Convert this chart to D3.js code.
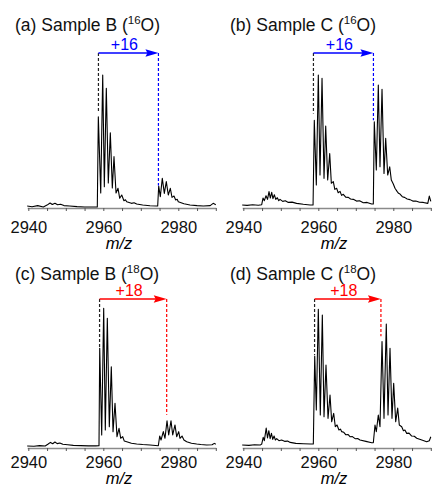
<!DOCTYPE html>
<html>
<head>
<meta charset="utf-8">
<script src="https://cdn.jsdelivr.net/npm/d3@7"></script>
<style>
body { margin: 0; background: #fff; }
text { font-family: "Liberation Sans", Arial, Helvetica, sans-serif; }
</style>
</head>
<body>
<div id="chart"></div>
<script>
// spectra: [m/z, relative intensity]
var specA = [[2939.7,1.5],[2941,1.0],[2942.5,1.8],[2944,0.8],[2945,2.2],[2945.8,3.8],[2946.4,2.6],[2947.1,3.6],[2947.8,2.4],[2948.6,2.8],[2949.5,1.8],[2951,1.5],[2953,1.0],[2955,0.8],[2957,0.8],[2958.4,0.8],
  [2958.67,68.6],[2959.31,11.3],[2959.84,100],[2960.27,16],[2960.8,90],[2961.33,18.8],[2961.87,56.6],[2962.4,15],[2962.85,38.6],[2963.39,11.3],[2963.92,14.8],[2964.37,7.3],[2964.91,9.8],[2965.5,5.5],[2965.9,6.2],[2966.24,4.7],[2967.5,3.5],[2968.2,3.9],[2968.9,3],[2970.5,2.2],[2972.45,1.7],[2974.24,1.5],[2974.5,1.5],
  [2974.77,16.5],[2975.2,8.5],[2975.73,22.3],[2976.27,11],[2976.8,19.8],[2977.33,9.8],[2977.87,14.8],[2978.32,8],[2978.85,9],[2979.3,6],[2979.7,6.5],[2980,4.7],[2981.5,3.2],[2983.12,2.3],[2985,1.8],[2986.67,1.5],[2988.5,1.8],[2989.3,3.5],[2990,2.5]];

var specB = [[2939.7,2.3],[2941,2.0],[2942.5,2.5],[2944,2.1],[2944.9,2.5],[2945.25,7.5],[2945.6,5.5],[2946.05,9.2],[2946.45,6.5],[2946.85,12.3],[2947.2,7.5],[2947.57,11.8],[2947.9,7],[2948.27,10],[2948.65,6.5],[2949.07,7.7],[2949.45,5.5],[2949.79,6.5],[2950.5,5],[2951.2,5.4],[2952,4.2],[2953,4.4],[2954.2,3.5],[2956,2.8],[2957.8,2.3],[2958.6,2.3],
  [2958.93,66],[2959.47,17.3],[2960,100],[2960.45,24.8],[2960.99,97.5],[2961.52,22.3],[2961.97,61.7],[2962.5,21],[2963.04,41],[2963.47,18.6],[2964,19.8],[2964.4,14],[2964.9,14.8],[2965.3,11.5],[2965.8,12.5],[2966.2,9.5],[2966.67,10.3],[2967.3,8.2],[2968,8.0],[2968.6,6.8],[2969.33,6.5],[2970.2,5.2],[2971,5.4],[2972,4],[2973,4.2],[2974.24,3],[2974.67,3],
  [2974.93,64.9],[2975.47,28.6],[2976,92.5],[2976.45,31],[2976.99,89.2],[2977.52,26],[2977.97,52.4],[2978.51,24.8],[2979.04,31],[2979.47,21],[2980,18],[2980.45,14.8],[2981,12.5],[2981.4,11],[2981.79,10.5],[2982.4,8.5],[2983,8],[2983.7,6.8],[2984.45,6.3],[2985.2,5.2],[2986,5.3],[2987,4.3],[2988,4.2],[2989.2,3.5],[2989.6,9],[2990,5]];

var specC = [[2939.7,1.5],[2941.5,1.3],[2943,1.8],[2944.5,1.5],[2945.3,3],[2945.9,4.2],[2946.5,3.2],[2947.1,4.5],[2947.7,3.3],[2948.4,3.8],[2949.2,2.8],[2950.5,2.5],[2952,2],[2954,1.8],[2956,1.6],[2958,1.6],[2958.85,1.7],
  [2959.04,75],[2959.57,9.8],[2960.1,105],[2960.53,13.5],[2961.07,97.5],[2961.6,16],[2962.13,61],[2962.59,12.3],[2963.12,33.6],[2963.65,8.5],[2964.19,14.8],[2964.64,7.3],[2965.17,8.5],[2965.6,5.2],[2966.24,4.7],[2967.5,3.6],[2968.9,3],[2970.5,2.6],[2972.45,2.3],[2974.67,1.7],
  [2975.04,9],[2975.39,6],[2976,12.3],[2976.45,7.3],[2976.99,20.5],[2977.44,9.8],[2978.05,20.5],[2978.51,9.8],[2979.12,17.3],[2979.57,8.5],[2980.11,12.3],[2980.45,7.3],[2980.99,9],[2981.5,6],[2982.24,4.7],[2983.5,3.6],[2984.9,3],[2986,2.6],[2987.57,2.3],[2989,2.4],[2989.6,3.5],[2990,2.8]];

var specD = [[2939.7,2.3],[2941.5,2.0],[2943,2.5],[2944.5,2.2],[2944.9,3],[2945.3,8],[2945.6,5.5],[2946.1,15],[2946.45,7.5],[2946.8,13],[2947.15,7],[2947.5,11],[2947.85,6.5],[2948.2,9],[2948.55,6],[2948.9,7],[2949.5,5.5],[2950.2,6],[2951,5],[2951.8,5.2],[2952.5,4.2],[2954,3.5],[2956,3.2],[2958,3],[2958.67,3],
  [2959.04,69.2],[2959.47,28.6],[2960,104.3],[2960.53,24.8],[2961.07,100],[2961.52,23.5],[2962.05,62.4],[2962.59,22.3],[2963.12,39.8],[2963.57,19.8],[2964.1,26],[2964.53,16],[2964.99,17.3],[2965.5,13.5],[2965.9,14.2],[2966.24,12.3],[2966.8,11.8],[2967.3,10],[2967.9,10.2],[2968.45,8.5],[2969.1,8.6],[2969.8,7],[2970.5,7.1],[2971.12,6],[2972.7,5],[2974.24,4],[2974.67,4],
  [2975.12,17.3],[2975.47,12.3],[2976,24.8],[2976.45,16],[2976.99,80],[2977.52,22.3],[2978.13,93.2],[2978.59,24.8],[2979.12,75],[2979.65,22.3],[2980.1,48.6],[2980.64,19.8],[2981.17,30],[2981.6,17.3],[2982.24,16],[2982.7,13],[2983.1,13.5],[2983.57,11],[2984.2,11.2],[2984.9,9],[2985.6,8.8],[2986.24,7.3],[2987.6,6],[2988.9,4.7],[2989.6,5.5],[2990,8.5]];

var spectra = [specA, specB, specC, specD];
var titles = ["(a) Sample B (", "(b) Sample C (", "(c) Sample B (", "(d) Sample C ("];
var isotopes = ["16", "16", "18", "18"];
var shiftLabels = ["+16", "+16", "+18", "+18"];
var shiftFrom = [2958.7, 2958.7, 2959.0, 2959.0];
var shiftTo = [2974.7, 2974.7, 2976.9, 2976.7];
// intensity where the dashed guide lines stop
var dashFromEnd = [72, 71, 76, 70];
var dashToEnd = [17, 66, 25, 84];
var xTickLabels = [2940, 2960, 2980];

var width = 433, height = 490;
var shiftColor = ["#0000ff", "#0000ff", "#ff0000", "#ff0000"];
var panelX = [0, 215, 0, 215];
var panelRow = [0, 0, 1, 1];
var rows = [
  {title: 31, arrow: 53, axis: 208, pad: 10, label: 249},
  {title: 280, arrow: 299, axis: 448, pad: 5, label: 484}
];

var svg = d3.select("#chart")
  .append("svg")
    .attr("width", width)
    .attr("height", height);

var x = d3.scaleLinear()
  .domain([2939.7, 2990])
  .range([27.2, 215.8]);

spectra.forEach(function(spec, i) {
  var r = rows[panelRow[i]];
  var g = svg.append("g")
    .attr("transform", "translate(" + panelX[i] + ",0)");

  var y = d3.scaleLinear()
    .domain([0, 100])
    .range([r.axis, r.axis - 133]);

  // x axis with minor ticks every 5
  var ax = g.append("g")
    .attr("transform", "translate(0," + r.axis + ")")
    .call(d3.axisBottom(x)
      .tickValues(d3.range(2940, 2991, 5))
      .tickSize(3)
      .tickSizeOuter(0)
      .tickPadding(r.pad)
      .tickFormat(function(d) { return xTickLabels.indexOf(d) >= 0 ? d : ""; }));
  ax.select(".domain").attr("stroke", "#8a8a8a").attr("stroke-width", 1.5);
  ax.selectAll(".tick line").attr("stroke", "#555");
  ax.selectAll(".tick text")
    .attr("fill", "#111")
    .style("font-size", "16.5px")
    .style("font-family", "'Liberation Sans', Arial, sans-serif");

  g.append("text")
    .attr("x", 119)
    .attr("y", r.label)
    .attr("text-anchor", "middle")
    .style("font-size", "16.5px")
    .style("font-style", "italic")
    .text("m/z");

  // spectrum
  g.append("path")
    .datum(spec)
    .attr("fill", "none")
    .attr("stroke", "#000")
    .attr("stroke-width", 1.1)
    .attr("stroke-linejoin", "round")
    .attr("d", d3.line()
      .x(function(d) { return x(d[0]); })
      .y(function(d) { return y(d[1]); }));

  // title
  var t = g.append("text")
    .attr("x", 15)
    .attr("y", r.title)
    .style("font-size", "17.5px")
    .attr("fill", "#111");
  t.append("tspan").text(titles[i]);
  t.append("tspan").attr("dy", -7).style("font-size", "11.5px").text(isotopes[i]);
  t.append("tspan").attr("dy", 7).text("O)");

  // dashed guides
  g.append("line")
    .attr("x1", x(shiftFrom[i])).attr("x2", x(shiftFrom[i]))
    .attr("y1", r.arrow).attr("y2", y(dashFromEnd[i]))
    .attr("stroke", "#222")
    .attr("stroke-width", 1.2)
    .attr("stroke-dasharray", "3,2");
  g.append("line")
    .attr("x1", x(shiftTo[i])).attr("x2", x(shiftTo[i]))
    .attr("y1", r.arrow).attr("y2", y(dashToEnd[i]))
    .attr("stroke", shiftColor[i])
    .attr("stroke-width", 1.2)
    .attr("stroke-dasharray", "3,2");

  // shift arrow
  var x0 = x(shiftFrom[i]), x1 = x(shiftTo[i]);
  g.append("line")
    .attr("x1", x0).attr("x2", x1 - 10)
    .attr("y1", r.arrow).attr("y2", r.arrow)
    .attr("stroke", shiftColor[i])
    .attr("stroke-width", 1.5);
  g.append("path")
    .attr("d", "M" + x1 + "," + r.arrow + "L" + (x1 - 13) + "," + (r.arrow - 3.8) +
      "L" + (x1 - 11) + "," + r.arrow + "L" + (x1 - 13) + "," + (r.arrow + 3.8) + "Z")
    .attr("fill", shiftColor[i]);
  g.append("text")
    .attr("x", (x0 + x1) / 2 - 4)
    .attr("y", r.arrow - 3)
    .attr("text-anchor", "middle")
    .attr("fill", shiftColor[i])
    .style("font-size", "16px")
    .text(shiftLabels[i]);
});
</script>
</body>
</html>
